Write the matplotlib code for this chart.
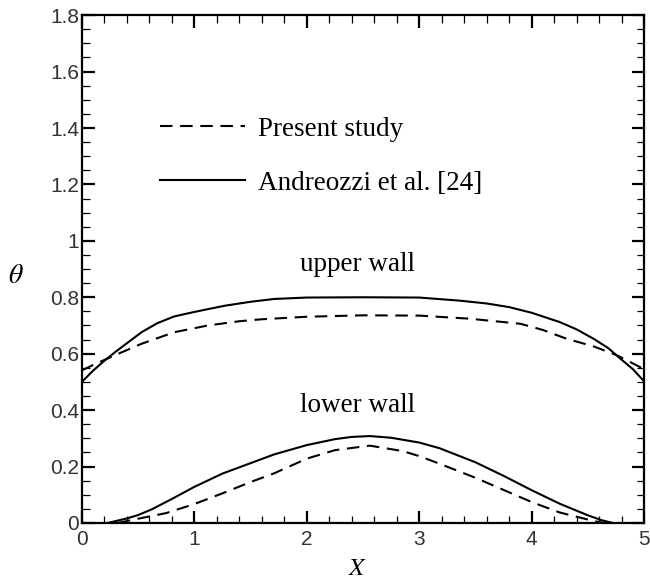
"""Wall temperature profiles: present study vs Andreozzi et al. [24]."""

import matplotlib.pyplot as plt
from matplotlib.ticker import MultipleLocator

# upper wall, Andreozzi et al. [24] (solid)
up_ref_x = [0.0, 0.1, 0.2, 0.3, 0.42, 0.53, 0.67, 0.82, 1.0, 1.27, 1.5, 1.71, 2.0, 2.5,
            3.0, 3.36, 3.6, 3.8, 4.0, 4.25, 4.4, 4.55, 4.68, 4.79, 4.9, 5.0]
up_ref_y = [0.50, 0.54, 0.575, 0.607, 0.643, 0.676, 0.708, 0.732, 0.748, 0.77, 0.784, 0.794,
            0.799, 0.80, 0.799, 0.788, 0.778, 0.765, 0.745, 0.712, 0.686, 0.653, 0.62, 0.582,
            0.545, 0.502]
# upper wall, present study (dashed)
up_new_x = [0.0, 0.1, 0.29, 0.53, 0.82, 1.12, 1.4, 1.6, 2.0, 2.5, 3.0, 3.45, 3.9, 4.1,
            4.31, 4.55, 4.76, 5.0]
up_new_y = [0.541, 0.56, 0.594, 0.635, 0.676, 0.700, 0.715, 0.722, 0.731, 0.736, 0.735,
            0.724, 0.706, 0.684, 0.653, 0.626, 0.594, 0.545]
# lower wall, Andreozzi et al. [24] (solid)
lo_ref_x = [0.23, 0.4, 0.5, 0.62, 0.8, 1.0, 1.25, 1.5, 1.71, 2.0, 2.25, 2.4, 2.56, 2.75,
            3.0, 3.18, 3.5, 3.75, 4.0, 4.25, 4.5, 4.62, 4.72]
lo_ref_y = [0.0, 0.016, 0.028, 0.048, 0.085, 0.128, 0.175, 0.212, 0.243, 0.276, 0.297, 0.305,
            0.308, 0.302, 0.285, 0.265, 0.215, 0.167, 0.116, 0.068, 0.027, 0.01, 0.0]
# lower wall, present study (dashed)
lo_new_x = [0.32, 0.5, 0.75, 1.0, 1.25, 1.5, 1.71, 2.0, 2.25, 2.56, 2.85, 3.0, 3.18, 3.5,
            3.75, 4.0, 4.25, 4.5, 4.6, 4.65]
lo_new_y = [0.0, 0.015, 0.035, 0.067, 0.105, 0.145, 0.176, 0.228, 0.258, 0.274, 0.255,
            0.237, 0.21, 0.16, 0.117, 0.074, 0.037, 0.012, 0.003, 0.0]

x_ticks = [0, 1, 2, 3, 4, 5]
x_ticklabels = ['0', '1', '2', '3', '4', '5']
y_ticks = [0, 0.2, 0.4, 0.6, 0.8, 1.0, 1.2, 1.4, 1.6, 1.8]
y_ticklabels = ['0', '0.2', '0.4', '0.6', '0.8', '1', '1.2', '1.4', '1.6', '1.8']

plt.rcParams['font.family'] = ['Liberation Serif', 'DejaVu Serif']
plt.rcParams['mathtext.fontset'] = 'stix'
plt.rcParams['lines.scale_dashes'] = False


def main():
    fig = plt.figure(figsize=(6.5, 5.83), dpi=100)
    ax = fig.add_axes([0.126, 0.103, 0.865, 0.871])

    dash = (0, (9, 5.5))
    lw = 1.5
    h_new, = ax.plot(up_new_x, up_new_y, color='k', lw=lw, linestyle=dash, label='Present study')
    h_ref, = ax.plot(up_ref_x, up_ref_y, color='k', lw=lw, label='Andreozzi et al. [24]')
    ax.plot(lo_new_x, lo_new_y, color='k', lw=lw, linestyle=dash)
    ax.plot(lo_ref_x, lo_ref_y, color='k', lw=lw)

    ax.set_xlim(0, 5)
    ax.set_ylim(0, 1.8)
    ax.set_xticks(x_ticks)
    ax.set_xticklabels(x_ticklabels)
    ax.set_yticks(y_ticks)
    ax.set_yticklabels(y_ticklabels)
    ax.xaxis.set_minor_locator(MultipleLocator(0.2))
    ax.yaxis.set_minor_locator(MultipleLocator(0.05))

    ax.tick_params(which='both', direction='in', top=True, right=True)
    ax.tick_params(which='major', length=9, width=1.6)
    ax.tick_params(which='minor', length=5.4, width=0.9)
    ax.tick_params(axis='x', pad=5)
    ax.tick_params(axis='y', pad=2)
    for lab in ax.get_xticklabels() + ax.get_yticklabels():
        lab.set_family(['Liberation Sans', 'DejaVu Sans'])
        lab.set_fontsize(15)
        lab.set_color('#333333')
    for sp in ax.spines.values():
        sp.set_linewidth(1.6)

    ax.set_xlabel('$X$', fontsize=18)
    ax.xaxis.set_label_coords(0.49, -0.07)
    ax.set_ylabel(r'$\theta$', fontsize=20, rotation=0, va='center')
    ax.yaxis.set_label_coords(-0.117, 0.485)

    ax.text(2.45, 0.915, 'upper wall', fontsize=19.5, ha='center', va='center')
    ax.text(2.45, 0.415, 'lower wall', fontsize=19.5, ha='center', va='center')

    ax.legend(handles=[h_new, h_ref], loc='upper left', bbox_to_anchor=(0.139, 0.80),
              frameon=False, fontsize=19.5, handlelength=3.15, handletextpad=0.48,
              labelspacing=1.07, borderpad=0, borderaxespad=0)

    fig.savefig('out.png', dpi=100)
    plt.close(fig)


if __name__ == '__main__':
    main()
